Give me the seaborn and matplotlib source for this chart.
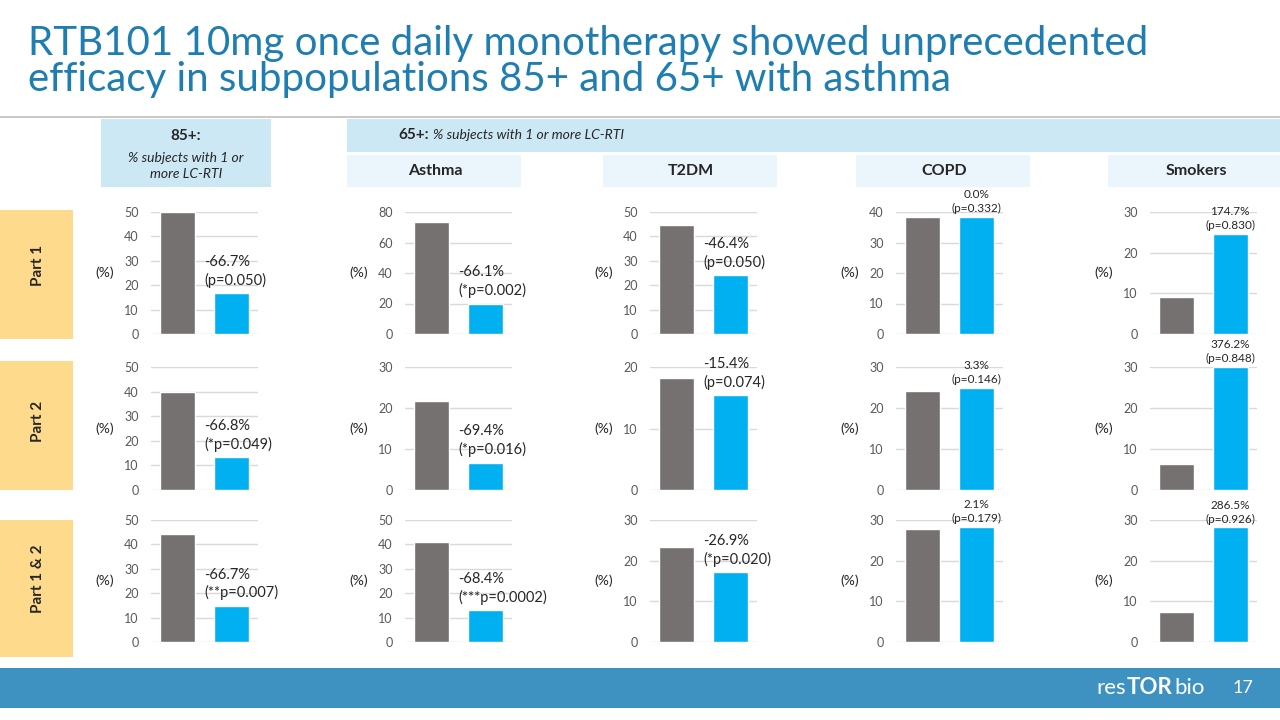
import numpy as np
import pandas as pd
import matplotlib
matplotlib.use('Agg')
import matplotlib.pyplot as plt
from matplotlib.patches import Rectangle
import seaborn as sns

# data (% subjects with 1 or more LC-RTI)
groups = ['Placebo', 'RTB101 10mg']
row_names = ['Part 1', 'Part 2', 'Part 1 & 2']
col_names = ['85+', 'Asthma', 'T2DM', 'COPD', 'Smokers']

placebo = [[50.0, 73.3, 44.6, 38.4, 9.0],
           [40.0, 21.8, 18.2, 24.2, 6.3],
           [44.4, 41.0, 23.4, 27.8, 7.3]]
rtb101 = [[16.7, 20.0, 24.0, 38.4, 24.7],
          [13.3, 6.7, 15.4, 25.0, 30.0],
          [14.8, 13.0, 17.1, 28.4, 28.2]]

change_labels = [['-66.7%', '-66.1%', '-46.4%', '0.0%', '174.7%'],
                 ['-66.8%', '-69.4%', '-15.4%', '3.3%', '376.2%'],
                 ['-66.7%', '-68.4%', '-26.9%', '2.1%', '286.5%']]
p_labels = [['(p=0.050)', '(*p=0.002)', '(p=0.050)', '(p=0.332)', '(p=0.830)'],
            ['(*p=0.049)', '(*p=0.016)', '(p=0.074)', '(p=0.146)', '(p=0.848)'],
            ['(**p=0.007)', '(***p=0.0002)', '(*p=0.020)', '(p=0.179)', '(p=0.926)']]

y_max = [[50, 80, 50, 40, 30],
         [50, 30, 20, 30, 30],
         [50, 50, 30, 30, 30]]
y_step = [[10, 20, 10, 10, 10],
          [10, 10, 10, 10, 10],
          [10, 10, 10, 10, 10]]

GRAY = '#767171'
BLUE = '#00B0F0'
W, H = 1280, 720

sns.set_style('white')
plt.rcParams['font.family'] = ['Lato', 'DejaVu Sans']

fig = plt.figure(figsize=(12.8, 7.2), dpi=100)


def box(x, y, w, h):
    # pixel box (top-left origin) -> figure fraction rect
    return [x / W, 1 - (y + h) / H, w / W, h / H]


def rect(x, y, w, h, color):
    fig.add_artist(Rectangle((x / W, 1 - (y + h) / H), w / W, h / H,
                             transform=fig.transFigure, color=color, lw=0, zorder=0))


def ftext(x, y, s, **kw):
    fig.text(x / W, 1 - y / H, s, **kw)


# title
title_color = '#1F7EB1'
ftext(28, 55, 'RTB101 10mg once daily monotherapy showed unprecedented',
      fontsize=29, color=title_color, va='baseline')
ftext(28, 91, 'efficacy in subpopulations 85+ and 65+ with asthma',
      fontsize=29, color=title_color, va='baseline')
rect(0, 116, 1280, 2, '#C9C9C9')

# header boxes
rect(101, 119, 170, 68, '#CDE8F5')
ftext(186, 136, '85+:', fontsize=11, fontweight='bold', ha='center', va='center')
ftext(186, 166, '% subjects with 1 or\nmore LC-RTI', fontsize=10, style='italic',
      ha='center', va='center', linespacing=1.3)
rect(347, 119, 933, 33, '#CDE8F5')
ftext(398, 135, '65+:', fontsize=11, fontweight='bold', va='center')
ftext(433, 135, '% subjects with 1 or more LC-RTI', fontsize=10, style='italic', va='center')
for x0, name in zip([347, 603, 856, 1108], col_names[1:]):
    rect(x0, 155, 174, 32, '#EAF5FC')
    ftext(x0 + 88, 171, name, fontsize=11.5, fontweight='bold', ha='center', va='center')

# row label boxes
for (y0, y1), yc, name in zip([(210, 339), (361, 490), (520, 657)], [265, 421, 579], row_names):
    rect(0, y0, 73, y1 - y0, '#FDDA8C')
    ftext(38, yc, name, fontsize=11, fontweight='bold', rotation=90, ha='center', va='center')

# charts
col_left = [151, 405, 650, 896, 1150]
row_top = [212, 367, 520]
row_bot = [334, 490, 642]

for r in range(3):
    for c in range(5):
        ax = fig.add_axes(box(col_left[c], row_top[r], 107, row_bot[r] - row_top[r]))
        df = pd.DataFrame({'group': groups, 'pct': [placebo[r][c], rtb101[r][c]]})
        sns.barplot(data=df, x='group', y='pct', hue='group', palette=[GRAY, BLUE],
                    width=0.65, saturation=1, legend=False, ax=ax)
        ax.set_xlim(-0.5, 1.5)
        ax.set_ylim(0, y_max[r][c])
        ax.set_yticks(np.arange(0, y_max[r][c] + 1, y_step[r][c]))
        ax.set_xticks([])
        ax.set_xlabel('')
        ax.set_ylabel('')
        ax.grid(axis='y', color='#D9D9D9', lw=1)
        ax.set_axisbelow(True)
        ax.set_facecolor('none')
        sns.despine(ax=ax, left=True, bottom=True)
        ax.tick_params(axis='y', length=0, pad=9, labelsize=9, labelcolor='#595959')
        ax.text(-0.43, 0.5, '(%)', transform=ax.transAxes, ha='center', va='center', fontsize=10)

        label = change_labels[r][c] + '\n' + p_labels[r][c]
        if c < 3:
            ax.annotate(label, xy=(0.5, rtb101[r][c]), xytext=(0, 4), textcoords='offset points',
                        ha='left', va='bottom', fontsize=10.5, linespacing=1.3,
                        annotation_clip=False)
        else:
            ax.annotate(label, xy=(1, rtb101[r][c]), xytext=(0, 2), textcoords='offset points',
                        ha='center', va='bottom', fontsize=8.5, linespacing=1.3,
                        annotation_clip=False)

# footer
rect(0, 668, 1280, 40, '#3E92C1')
ftext(1126, 688, 'res', fontsize=16, color='white', va='center', ha='right')
ftext(1127, 688, 'TOR', fontsize=16, color='white', va='center', fontweight='bold')
ftext(1174, 688, 'bio', fontsize=16, color='white', va='center')
ftext(1243, 688, '17', fontsize=13, color='white', va='center', ha='center')

fig.savefig('out.png', dpi=100)
